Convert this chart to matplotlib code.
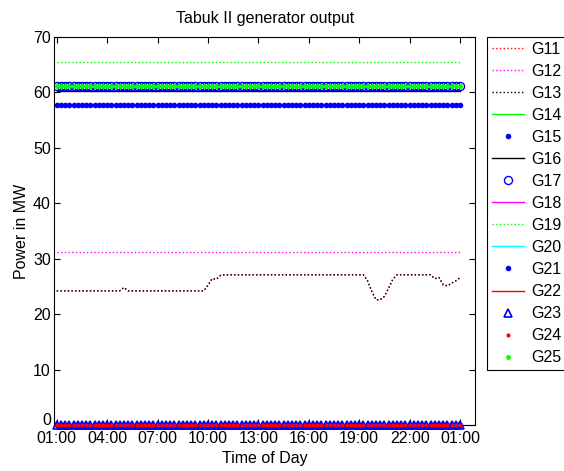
import numpy as np
import matplotlib
matplotlib.use("Agg")
import matplotlib.pyplot as plt
import matplotlib.transforms as mtransforms

plt.rcParams['font.family'] = ['Liberation Sans', 'DejaVu Sans']

# time in hours, 15-minute steps from 01:00 to 01:00 next day
hours = np.arange(97) / 4.0 + 1.0

g13_values = [
    24.2, 24.2, 24.2, 24.2, 24.2, 24.2, 24.2, 24.2, 24.2, 24.2,
    24.2, 24.2, 24.2, 24.2, 24.2, 24.2, 24.8, 24.2, 24.2, 24.2,
    24.2, 24.2, 24.2, 24.2, 24.2, 24.2, 24.2, 24.2, 24.2, 24.2,
    24.2, 24.2, 24.2, 24.2, 24.2, 24.2, 25.2, 26.4, 26.3, 27.0,
    27.1, 27.1, 27.1, 27.1, 27.1, 27.1, 27.1, 27.1, 27.1, 27.1,
    27.1, 27.1, 27.1, 27.1, 27.1, 27.1, 27.1, 27.1, 27.1, 27.1,
    27.1, 27.1, 27.1, 27.1, 27.1, 27.1, 27.1, 27.1, 27.1, 27.1,
    27.1, 27.1, 27.1, 27.1, 26.0, 24.1, 22.6, 22.6, 23.2, 24.7,
    26.3, 27.1, 27.1, 27.1, 27.1, 27.1, 27.1, 27.1, 27.1, 27.1,
    26.4, 26.6, 25.3, 25.1, 25.6, 26.0, 26.6,
]
g11_values = list(g13_values)

g12_level = 31.2
g14_level = 61.2
g15_level = 57.8
g16_level = 60.2
g17_level = 61.2
g18_level = 0.0
g19_level = 65.5
g20_level = 0.0
g21_level = 0.0
g22_level = 0.0
g23_level = 0.0
g24_level = 0.0
g25_level = 61.2

tick_hours = [1, 4, 7, 10, 13, 16, 19, 22, 25]
tick_labels = ['01:00', '04:00', '07:00', '10:00', '13:00', '16:00', '19:00', '22:00', '01:00']
y_ticks = [0, 10, 20, 30, 40, 50, 60, 70]

W, H = 564, 471
fig = plt.figure(figsize=(W / 100, H / 100), dpi=100)
ax = fig.add_axes([54.3 / W, 1 - 425 / H, (475 - 54.3) / W, (425 - 37) / H])

ones = np.ones_like(hours)
lw = 1.0
FS = 11.5
ax.plot(hours, g11_values, color='red', ls=':', lw=lw, label='G11')
ax.plot(hours, g12_level * ones, color='magenta', ls=':', lw=lw, label='G12')
ax.plot(hours, g13_values, color='black', ls=':', lw=lw, label='G13')
ax.plot(hours, g14_level * ones, color='#00ff00', ls='-', lw=lw, label='G14')
ax.plot(hours, g15_level * ones, color='blue', ls='none', marker='.', ms=6, label='G15')
ax.plot(hours, g16_level * ones, color='black', ls='-', lw=lw, label='G16')
ax.plot(hours, g17_level * ones, color='blue', ls='none', marker='o', ms=5.8, mfc='none', mew=1.0, label='G17')
ax.plot(hours, g18_level * ones, color='magenta', ls='-', lw=lw, label='G18', clip_on=False)
ax.plot(hours, g19_level * ones, color='#00ff00', ls=':', lw=lw, label='G19')
ax.plot(hours, g20_level * ones, color='cyan', ls='-', lw=lw, label='G20', clip_on=False)
ax.plot(hours, g21_level * ones, color='blue', ls='none', marker='.', ms=6, label='G21', clip_on=False)
ax.plot(hours, g22_level * ones, color='red', ls='-', lw=lw, label='G22', clip_on=False)
ax.plot(hours, g23_level * ones, color='blue', ls='none', marker='^', ms=6, mfc='none', mew=1.2, label='G23', clip_on=False, zorder=3)
ax.plot(hours, g24_level * ones, color='red', ls='none', marker='.', ms=4, label='G24', clip_on=False, zorder=3)
ax.plot(hours, g25_level * ones, color='#00ff00', ls='none', marker='.', ms=5, label='G25')

ax.set_xlim(0.857, 25.89)
ax.set_ylim(0, 70)
ax.set_xticks(tick_hours)
ax.set_xticklabels(tick_labels)
ax.set_yticks(y_ticks)
ax.tick_params(direction='in', top=True, right=True, labelsize=FS, length=4, width=0.8)
ax.tick_params(axis='x', pad=4.5)
ax.tick_params(axis='y', pad=2.5)
for s in ax.spines.values():
    s.set_linewidth(0.8)

# nudge the "0" y tick label up slightly so it does not collide with the first time label
zero_lab = ax.get_yticklabels()[0]
zero_lab.set_transform(zero_lab.get_transform() + mtransforms.ScaledTranslation(0, 4 / 72, fig.dpi_scale_trans))

ax.set_title('Tabuk II generator output', fontsize=FS, pad=10)
ax.set_xlabel('Time of Day', fontsize=FS, labelpad=3.5)
ax.set_ylabel('Power in MW', fontsize=FS, labelpad=3)

leg = ax.legend(loc='upper left', bbox_to_anchor=(487 / W, 1 - 37 / H), bbox_transform=fig.transFigure,
                fontsize=FS, frameon=True, fancybox=False, edgecolor='black', framealpha=1,
                handlelength=2.0, handletextpad=0.5, labelspacing=0.44, borderpad=0.3,
                borderaxespad=0, markerscale=1.0, numpoints=1)
leg.get_frame().set_linewidth(0.8)

fig.savefig('out.png', dpi=100)
